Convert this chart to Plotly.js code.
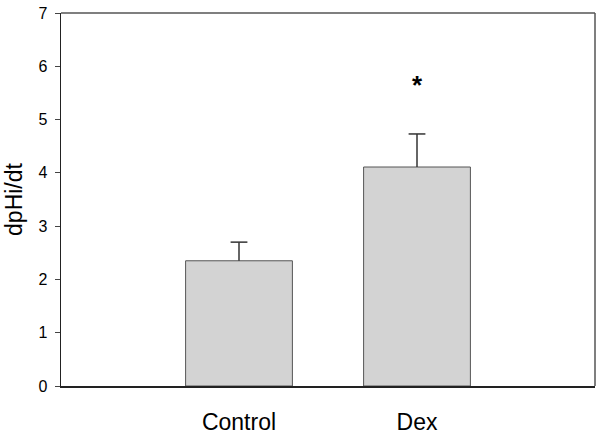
<!DOCTYPE html>
<html>
<head>
<meta charset="utf-8">
<script src="https://cdn.plot.ly/plotly-3.0.1.min.js"></script>
<style>html,body{margin:0;padding:0;background:#fff}#chart{width:600px;height:434px}</style>
</head>
<body>
<div id="chart"></div>
<script>
const categories = ["Control", "Dex"];
const positions = [1, 2];
const means = [2.35, 4.11];
const errUpper = [0.35, 0.62];
const significance = ["", "*"];
const sigY = [null, 5.64];
const yTicks = [0, 1, 2, 3, 4, 5, 6, 7];

const font = "Liberation Sans, Arial, sans-serif";

const traces = [{
  type: "bar",
  x: positions,
  y: means,
  width: 0.6,
  marker: {color: "#d3d3d3", line: {color: "#555", width: 1}},
  hoverinfo: "skip"
}];

// upper-only error bars: stem from bar top to mean+err, with a cap at the top
positions.forEach((p, i) => {
  traces.push({
    type: "scatter", mode: "lines",
    x: [p, p], y: [means[i], means[i] + errUpper[i]],
    line: {color: "#333", width: 1.5}, hoverinfo: "skip"
  });
  traces.push({
    type: "scatter", mode: "markers",
    x: [p], y: [means[i] + errUpper[i]],
    marker: {symbol: "line-ew-open", size: 12, color: "#333", line: {color: "#333", width: 1.5}},
    hoverinfo: "skip"
  });
});

const annotations = [];
significance.forEach((s, i) => {
  if (s) annotations.push({x: positions[i], y: sigY[i], xref: "x", yref: "y", text: s,
    showarrow: false, font: {family: font, size: 26, color: "#000", weight: "bold"}});
});

const layout = {
  width: 600, height: 434,
  margin: {l: 61, r: 5, t: 13, b: 48},
  paper_bgcolor: "#fff", plot_bgcolor: "#fff",
  showlegend: false,
  font: {family: font, color: "#000"},
  xaxis: {
    range: [0, 3], tickvals: positions, ticktext: categories,
    ticks: "", showgrid: false, zeroline: false,
    showline: true, linecolor: "#222", linewidth: 1.5,
    tickfont: {family: font, size: 23}, ticklabelstandoff: 15
  },
  yaxis: {
    range: [0, 7], tickvals: yTicks, ticks: "outside", ticklen: 5, tickcolor: "#444", tickwidth: 1,
    showgrid: false, zeroline: false,
    showline: true, linecolor: "#222", linewidth: 1.5,
    tickfont: {family: font, size: 16}, ticklabelstandoff: 4,
    title: {text: "dpHi/dt", font: {family: font, size: 23}, standoff: 9}
  },
  shapes: [
    {type: "line", xref: "paper", yref: "paper", x0: 0, x1: 1, y0: 1, y1: 1, line: {color: "#555", width: 1.5}},
    {type: "line", xref: "paper", yref: "paper", x0: 1, x1: 1, y0: 0, y1: 1, line: {color: "#555", width: 1.5}}
  ],
  annotations: annotations
};

Plotly.newPlot("chart", traces, layout, {staticPlot: true, displayModeBar: false});
</script>
</body>
</html>
